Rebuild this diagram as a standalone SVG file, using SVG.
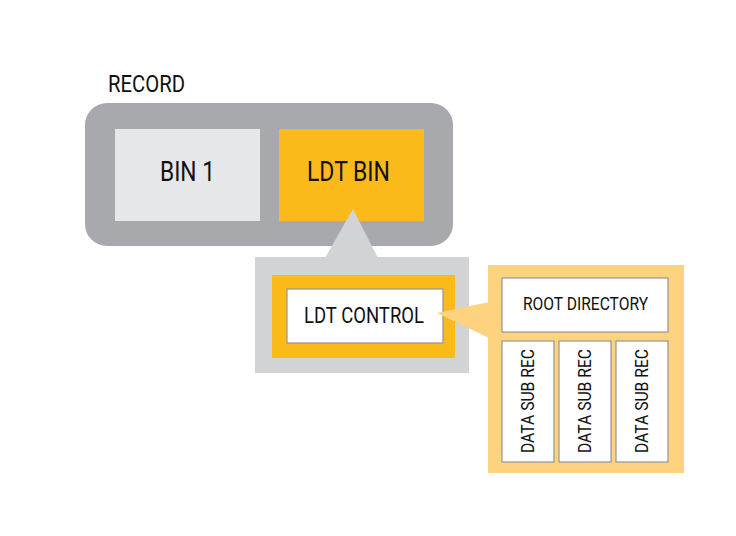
<svg xmlns="http://www.w3.org/2000/svg" width="736" height="536" viewBox="0 0 736 536">
<style>
text{font-family:Roboto,"Liberation Sans",sans-serif;font-weight:400;fill:#111;}
.wbox{fill:#fff;stroke:#939598;stroke-width:1.2;}
</style>
<rect width="736" height="536" fill="#fff"/>
<g id="record">
<text x="108" y="92" font-size="24" textLength="77" lengthAdjust="spacingAndGlyphs">RECORD</text>
<rect x="85" y="103" width="368" height="143" rx="22" fill="#a7a9ac"/>
</g>
<g id="bin1">
<rect x="115" y="129" width="145" height="92" fill="#e6e7e8"/>
<text x="187.5" y="181" font-size="28.5" text-anchor="middle" textLength="55" lengthAdjust="spacingAndGlyphs">BIN 1</text>
</g>
<g id="ldtbin">
<rect x="279" y="129" width="145" height="92" fill="#fbb91a"/>
<text x="348.5" y="181" font-size="28.5" text-anchor="middle" textLength="83" lengthAdjust="spacingAndGlyphs">LDT BIN</text>
</g>
<g id="connectors">
<polygon points="353,209 378,258 325,258" fill="#d1d3d4"/>
</g>
<g id="ldtcontrol">
<rect x="255" y="257" width="214" height="116" fill="#d1d3d4"/>
<rect x="272" y="275" width="183" height="83" fill="#fbb91a"/>
<rect class="wbox" x="287" y="289" width="156" height="54"/>
<text x="364" y="323" font-size="22.5" text-anchor="middle" textLength="120" lengthAdjust="spacingAndGlyphs">LDT CONTROL</text>
</g>
<g id="ldtstore">
<rect x="488" y="265" width="196" height="208" fill="#fdd37f"/>
<polygon points="437,313 489,302 489,338" fill="#fdd37f"/>
<g id="rootdir">
<rect class="wbox" x="502" y="278" width="166" height="54"/>
<text x="585.5" y="309.5" font-size="17.5" text-anchor="middle" textLength="125" lengthAdjust="spacingAndGlyphs">ROOT DIRECTORY</text>
</g>
<g id="sub1">
<rect class="wbox" x="502" y="341" width="52" height="121"/>
<text transform="translate(533.5,401) rotate(-90)" x="0" y="0" font-size="18" text-anchor="middle" textLength="104" lengthAdjust="spacingAndGlyphs">DATA SUB REC</text>
</g>
<g id="sub2">
<rect class="wbox" x="559" y="341" width="52" height="121"/>
<text transform="translate(590.5,401) rotate(-90)" x="0" y="0" font-size="18" text-anchor="middle" textLength="104" lengthAdjust="spacingAndGlyphs">DATA SUB REC</text>
</g>
<g id="sub3">
<rect class="wbox" x="616" y="341" width="52" height="121"/>
<text transform="translate(647.5,401) rotate(-90)" x="0" y="0" font-size="18" text-anchor="middle" textLength="104" lengthAdjust="spacingAndGlyphs">DATA SUB REC</text>
</g>
</g>
</svg>
